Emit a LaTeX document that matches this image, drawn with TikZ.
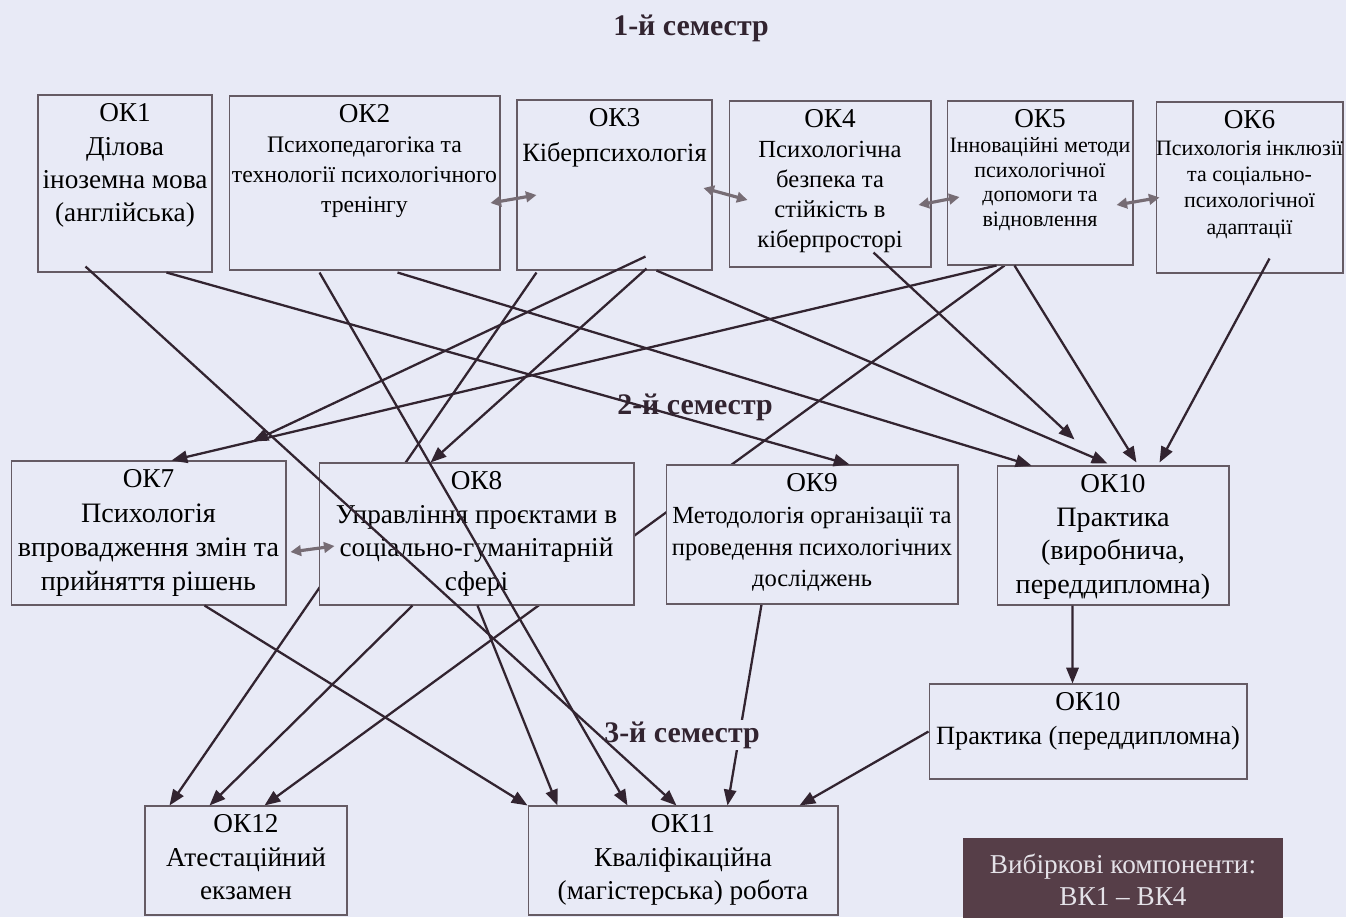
\documentclass[tikz,border=0pt]{standalone}
\usepackage{fontspec}
\setmainfont{Liberation Serif}
\usetikzlibrary{arrows.meta, positioning, calc, backgrounds}
\definecolor{paper}{RGB}{232,234,246}
\definecolor{ink}{RGB}{50,36,48}
\definecolor{swapgray}{RGB}{118,108,116}
\definecolor{vkfill}{RGB}{86,62,72}
\definecolor{vktext}{RGB}{228,226,232}
\tikzstyle{block} = [draw=ink!75, fill=paper, rectangle, inner sep=0pt, line width=0.6pt]
\tikzstyle{semester} = [fill=paper, inner sep=1pt, text=ink, font=\fontsize{17}{20}\selectfont\bfseries]
\tikzstyle{link} = [draw=ink, line width=1.3pt, -{Triangle[length=9pt,width=7pt]}]
\tikzstyle{twoway} = [draw=swapgray, line width=1.8pt, {Triangle[length=6pt,width=6pt]}-{Triangle[length=6pt,width=6pt]}]
\newcommand{\ok}[6]{\parbox[c][#2][t]{#1}{\centering\vspace*{5pt}%
  {\fontsize{15.5}{19}\selectfont #3\par}%
  {\fontsize{#4}{#5}\selectfont #6\par}}}

\begin{document}
\begin{tikzpicture}[x=0.02cm, y=-0.02cm]
    \useasboundingbox (0,0) rectangle (1346,917);
    \node [block] (ok1) at (125,183.5) {\ok{3.48cm}{3.54cm}{ОК1}{15.5}{19}{Ділова\\іноземна мова\\(англійська)}};
    \node [block] (ok2) at (364.5,183) {\ok{5.42cm}{3.48cm}{ОК2}{13.5}{17}{Психопедагогіка та\\технології психологічного\\тренінгу}};
    \node [block] (ok3) at (614.5,185) {\ok{3.90cm}{3.40cm}{ОК3}{15}{20}{Кіберпсихологія}};
    \node [block] (ok4) at (830,184) {\ok{4.04cm}{3.32cm}{ОК4}{14}{17}{Психологічна\\безпека та\\стійкість в\\кіберпросторі}};
    \node [block] (ok5) at (1040,183) {\ok{3.72cm}{3.28cm}{ОК5}{12.5}{14}{Інноваційні методи\\психологічної\\допомоги та\\відновлення}};
    \node [block] (ok6) at (1249.5,187.5) {\ok{3.74cm}{3.42cm}{ОК6}{12.5}{15}{Психологія інклюзії\\та соціально-\\психологічної\\адаптації}};
    \node [block] (ok7) at (148.5,533) {\ok{5.50cm}{2.88cm}{ОК7}{16}{19.5}{Психологія\\впровадження змін та\\прийняття рішень}};
    \node [block] (ok8) at (476.5,534) {\ok{6.30cm}{2.84cm}{ОК8}{15.5}{19}{Управління проєктами в\\соціально-гуманітарній\\сфері}};
    \node [block] (ok9) at (812,534.5) {\ok{5.84cm}{2.78cm}{ОК9}{14}{18}{Методологія організації та\\проведення психологічних\\досліджень}};
    \node [block] (ok10) at (1113,535.5) {\ok{4.64cm}{2.78cm}{ОК10}{16}{19}{Практика\\(виробнича,\\переддипломна)}};
    \node [block] (ok10b) at (1088,731.5) {\ok{6.36cm}{1.90cm}{ОК10}{15}{19}{Практика (переддипломна)}};
    \node [block] (ok12) at (246,860.5) {\ok{4.04cm}{2.18cm}{ОК12}{15.5}{19}{Атестаційний\\екзамен}};
    \node [block] (ok11) at (683,860.5) {\ok{6.20cm}{2.18cm}{ОК11}{15.5}{19}{Кваліфікаційна\\(магістерська) робота}};
    \node [block, draw=none, fill=vkfill, text=vktext, align=center, minimum width=6.4cm, minimum height=1.66cm,
        font=\fontsize{15.5}{18}\selectfont] (vk) at (1123,879.5) {Вибіркові компоненти:\\ВК1 – ВК4};

    \node [semester] (sem1) at (691,28) {1-й семестр};
    \node [semester] (sem2) at (695,407) {2-й семестр};
    \node [semester] (sem3) at (682,735) {3-й семестр};

    \coordinate (ok7tip) at ($(ok7.north east)+(-34,-19)$);
    \coordinate (ok10tip) at ($(ok10.north west)+(78,-26)$);

    \begin{pgfonlayer}{background}
        \fill [paper] (0,0) rectangle (1346,917);
        \draw [link] ($(ok3.south west)+(20,2)$) -- ($(ok12.north west)+(25,0)$);
        \draw [link] ($(ok5.south west)+(58,0)$) -- ($(ok12.north west)+(120,0)$);
        \draw [link] ($(ok9.south west)+(96,0)$) -- ($(ok11.north west)+(200,0)$);
    \end{pgfonlayer}

    \draw [link] ($(ok1.south west)+(48,-6)$) -- ($(ok11.north west)+(149,0)$);
    \draw [link] ($(ok1.south west)+(129,0)$) -- ($(ok9.north west)+(184,0)$);
    \draw [link] ($(ok2.south west)+(91,2)$) -- ($(ok11.north west)+(100,0)$);
    \draw [link] ($(ok2.south west)+(169,2)$) -- ($(ok10.north west)+(35,0)$);
    \draw [link] ($(ok3.south west)+(129,-14)$) -- (ok7tip);
    \draw [link] ($(ok3.south west)+(130,-2)$) -- ($(ok8.north west)+(112,0)$);
    \draw [link] ($(ok3.south west)+(140,0)$) -- ($(ok10.north west)+(111,-2)$);
    \draw [link] ($(ok4.south west)+(145,-15)$) -- (ok10tip);
    \draw [link] ($(ok5.south west)+(50,0)$) -- ($(ok7.north west)+(161,0)$);
    \draw [link] ($(ok5.south west)+(68,0)$) -- ($(ok10.north west)+(140,-3)$);
    \draw [link] ($(ok6.south west)+(114,-15)$) -- ($(ok10.north west)+(163,-3)$);
    \draw [link] ($(ok7.south west)+(194,0)$) -- (ok11.north west);
    \draw [link] ($(ok8.south west)+(94,0)$) -- ($(ok12.north west)+(65,0)$);
    \draw [link] ($(ok8.south west)+(159,0)$) -- ($(ok11.north west)+(30,0)$);
    \draw [link] ($(ok10.south west)+(76,0)$) -- ($(ok10b.north west)+(144,0)$);
    \draw [link] (ok10b.west) -- ($(ok11.north west)+(272,0)$);

    \draw [twoway] ($(ok2.east)+(-10,20)$) -- ($(ok3.west)+(20,10)$);
    \draw [twoway] ($(ok3.east)+(-9,3)$) -- ($(ok4.west)+(19,16)$);
    \draw [twoway] ($(ok4.east)+(-13,21)$) -- ($(ok5.west)+(13,14)$);
    \draw [twoway] ($(ok5.east)+(-17,22)$) -- ($(ok6.west)+(4,10)$);
    \draw [twoway] ($(ok7.east)+(4,19)$) -- ($(ok8.west)+(16,12)$);
\end{tikzpicture}
\end{document}
